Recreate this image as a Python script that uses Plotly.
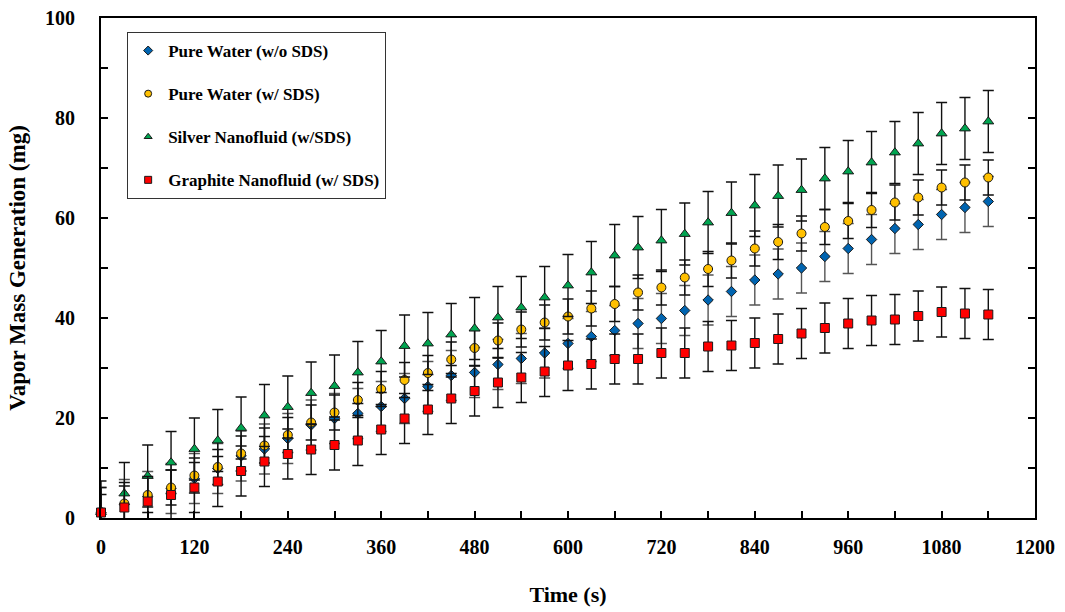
import plotly.graph_objects as go

time_s = [0, 30, 60, 90, 120, 150, 180, 210, 240, 270, 300, 330, 360, 390, 420, 450, 480,
          510, 540, 570, 600, 630, 660, 690, 720, 750, 780, 810, 840, 870, 900, 930, 960,
          990, 1020, 1050, 1080, 1110, 1140]

pure_wo_sds = [1.1, 2.7, 4.3, 5.9, 7.9, 9.9, 12.4, 13.8, 15.9, 18.6, 19.9, 20.9, 22.3,
               23.9, 26.3, 28.5, 29.1, 30.7, 31.9, 33.0, 34.9, 36.3, 37.5, 38.9, 39.9,
               41.5, 43.6, 45.3, 47.6, 48.8, 50.0, 52.3, 53.9, 55.7, 57.9, 58.7, 60.7, 62.1, 63.3]
pure_w_sds = [1.2, 2.9, 4.6, 6.1, 8.5, 10.2, 12.9, 14.5, 16.6, 19.1, 21.1, 23.6, 25.8,
              27.6, 29.0, 31.7, 34.0, 35.5, 37.7, 39.1, 40.3, 41.9, 42.8, 45.1, 46.1,
              48.1, 49.8, 51.5, 53.9, 55.2, 56.9, 58.2, 59.4, 61.6, 63.1, 64.1, 66.1, 67.1, 68.1]
silver_nf = [1.2, 4.9, 8.4, 11.1, 13.8, 15.5, 18.0, 20.5, 22.2, 25.0, 26.4, 29.1, 31.3,
             34.4, 34.9, 36.7, 37.9, 40.1, 42.1, 44.1, 46.5, 49.1, 52.5, 54.1, 55.5,
             56.8, 59.1, 61.0, 62.5, 64.4, 65.6, 67.9, 69.3, 71.1, 73.1, 74.9, 76.9, 77.9, 79.3]
graphite_nf = [1.1, 2.1, 3.3, 4.6, 6.1, 7.3, 9.4, 11.3, 12.8, 13.7, 14.6, 15.5, 17.7,
               19.9, 21.7, 23.9, 25.4, 27.1, 28.1, 29.3, 30.5, 30.8, 31.8, 31.8, 33.0,
               33.0, 34.3, 34.5, 35.0, 35.8, 36.9, 38.0, 38.9, 39.5, 39.7, 40.4, 41.2, 40.9, 40.7]

# fixed error-bar value per series (mg)
err_wo_sds = 5.0
err_w_sds = 3.5
err_silver = 6.2
err_graphite = 5.0

series_names = ["Pure Water (w/o SDS)", "Pure Water (w/ SDS)",
                "Silver Nanofluid (w/SDS)", "Graphite Nanofluid (w/ SDS)"]

x_ticks = [0, 120, 240, 360, 480, 600, 720, 840, 960, 1080, 1200]
y_ticks = [0, 20, 40, 60, 80, 100]

series = [
    (series_names[0], pure_wo_sds, err_wo_sds, "diamond", "#0064B0", 8, "#555555"),
    (series_names[1], pure_w_sds, err_w_sds, "circle", "#FFC000", 9, "#111111"),
    (series_names[2], silver_nf, err_silver, "triangle-up", "#00A550", 9.5, "#111111"),
    (series_names[3], graphite_nf, err_graphite, "square", "#FF0000", 9, "#111111"),
]

FONT = "Liberation Serif, Times New Roman, serif"
fig = go.Figure()

for i, (name, vals, err, sym, col, size, ecol) in enumerate(series):
    # error bars (clipped to plot area)
    fig.add_trace(go.Scatter(
        x=time_s, y=vals, mode="markers",
        marker=dict(size=1, opacity=0),
        error_y=dict(type="constant", value=err, color=ecol, thickness=1.4, width=5.5),
        cliponaxis=True, showlegend=False, hoverinfo="skip"))
    # markers
    fig.add_trace(go.Scatter(
        x=time_s, y=vals, mode="markers", name=name,
        marker=dict(symbol=sym, size=size, color=col,
                    line=dict(color="#1a1a1a", width=1)),
        cliponaxis=False, showlegend=False))
    # legend entry
    fig.add_trace(go.Scatter(
        x=[None], y=[None], mode="markers", name=name, legendgroup=f"g{i}",
        marker=dict(symbol=sym, size=7, color=col,
                    line=dict(color="#1a1a1a", width=1)),
        showlegend=True))

fig.update_layout(
    width=1065, height=612,
    margin=dict(l=101, r=30, t=18, b=94, autoexpand=False),
    paper_bgcolor="white", plot_bgcolor="white",
    font=dict(family=FONT, color="black", size=20),
    legend=dict(
        x=0.028, y=0.972, xanchor="left", yanchor="top",
        bgcolor="white", bordercolor="#333333", borderwidth=1,
        font=dict(family=FONT, size=17, color="black", weight="bold"),
        traceorder="grouped", tracegroupgap=18,
        itemwidth=30,
    ),
    showlegend=True,
)

fig.update_xaxes(
    range=[0, 1200], tickvals=x_ticks, ticktext=[str(v) for v in x_ticks],
    ticks="inside", ticklen=7, tickwidth=1.5, tickcolor="black",
    minor=dict(dtick=60, ticks="inside", ticklen=7, tickwidth=1.5, tickcolor="black"),
    showline=True, linecolor="black", linewidth=2, mirror=True,
    showgrid=False, zeroline=False, automargin=False, ticklabeloverflow="allow",
    tickfont=dict(family=FONT, size=20, color="black", weight="bold"),
    ticklabelstandoff=10,
    title=dict(text="Time (s)", font=dict(family=FONT, size=22, color="black", weight="bold"),
               standoff=30),
)
fig.update_yaxes(
    range=[0, 100], tickvals=y_ticks, ticktext=[str(v) for v in y_ticks],
    ticks="inside", ticklen=7, tickwidth=1.5, tickcolor="black",
    minor=dict(dtick=10, ticks="inside", ticklen=7, tickwidth=1.5, tickcolor="black"),
    showline=True, linecolor="black", linewidth=2, mirror="ticks",
    showgrid=False, zeroline=False, automargin=False, ticklabeloverflow="allow",
    tickfont=dict(family=FONT, size=20, color="black", weight="bold"),
    ticklabelstandoff=20,
    title=dict(text="Vapor Mass Generation (mg)",
               font=dict(family=FONT, size=23, color="black", weight="bold"),
               standoff=13),
)

# remove the page's default body margin so the 1065x612 figure fills the window exactly
fig.write_html("out.html", config={"displayModeBar": False},
               post_script="document.body.style.margin='0';")
